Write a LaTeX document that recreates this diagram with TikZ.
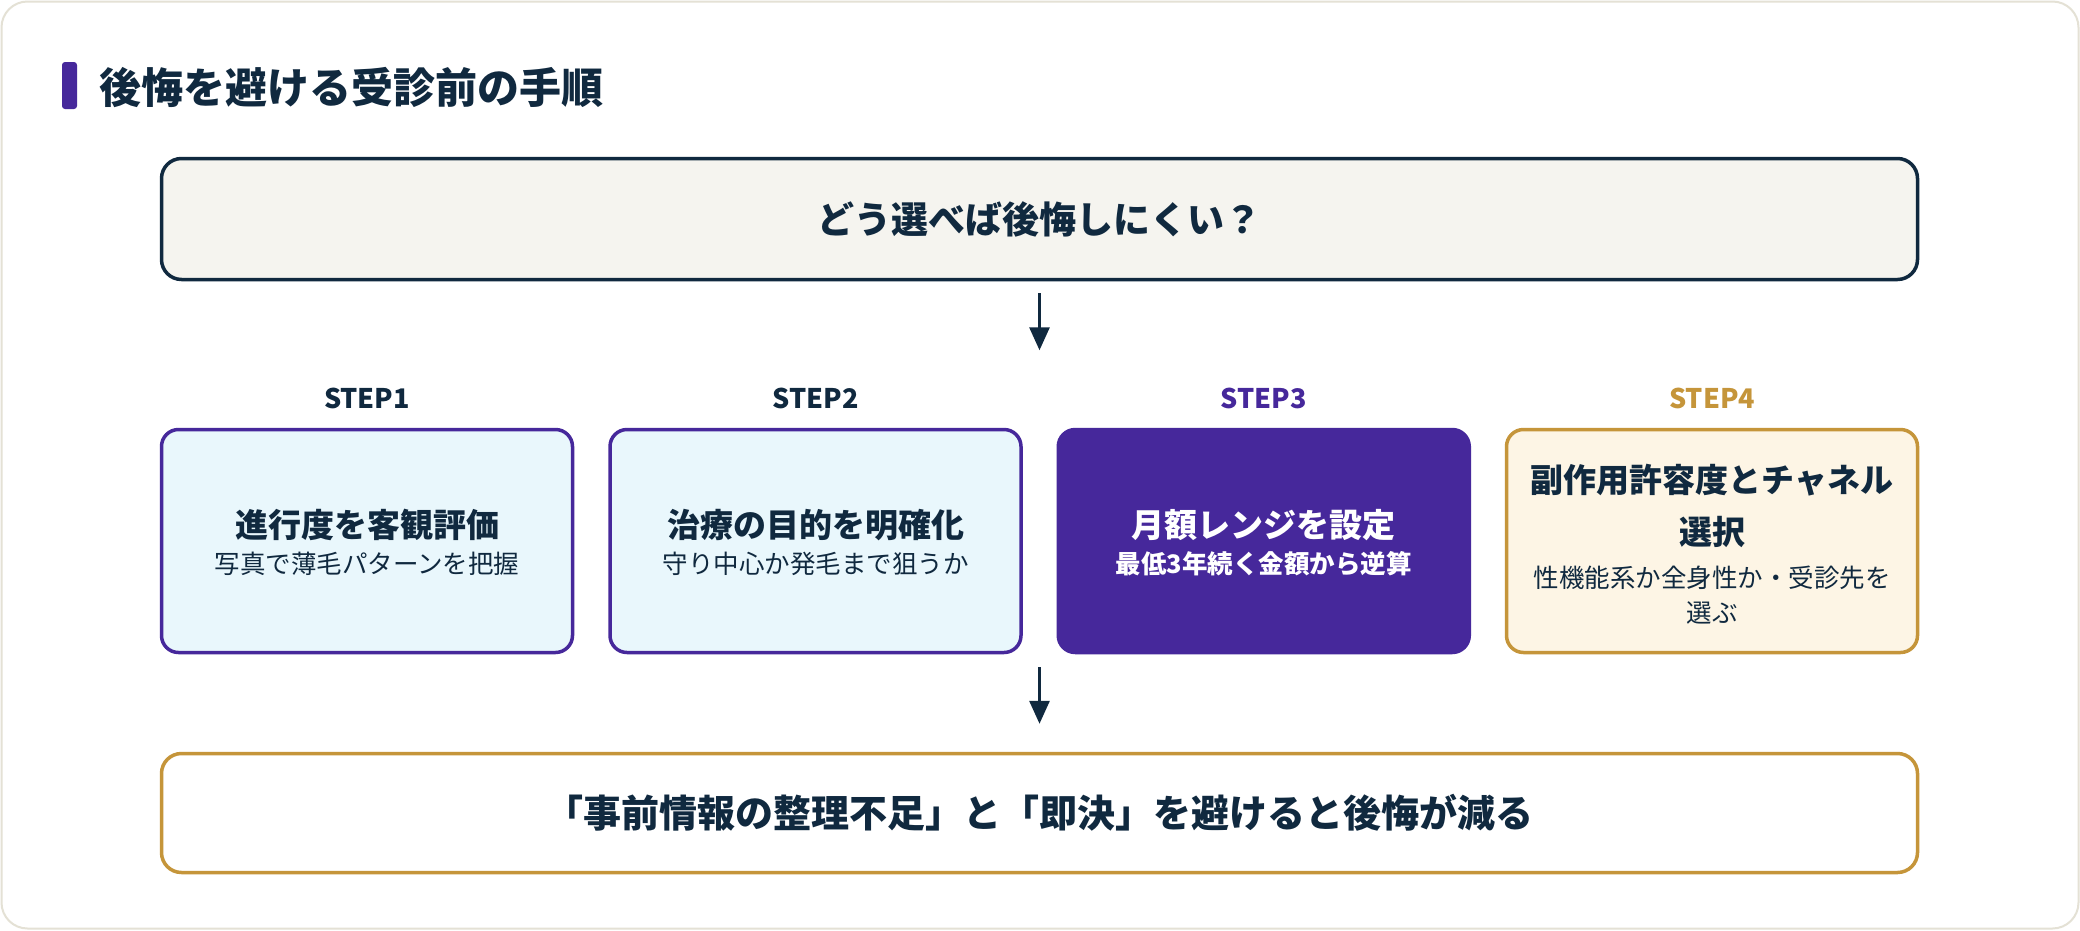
\documentclass[tikz,border=0pt]{standalone}
\usepackage{fontspec}
\newfontfamily\jp{Noto Sans CJK JP}
\usetikzlibrary{arrows.meta}
\definecolor{navy}{HTML}{10293F}
\definecolor{brandpurple}{HTML}{46289B}
\definecolor{gold}{HTML}{C5953A}
\definecolor{cyanfill}{HTML}{E9F7FC}
\definecolor{creamfill}{HTML}{FDF5E5}
\definecolor{greyfill}{HTML}{F5F4EF}
\definecolor{cardline}{HTML}{E4E1D5}
\tikzset{
  stepbox/.style={draw=brandpurple, line width=3.5pt, fill=cyanfill, rounded corners=17pt,
    minimum width=411pt, minimum height=223pt, inner sep=0pt},
  widebox/.style={line width=3.5pt, rounded corners=20pt, minimum width=1756pt, inner sep=0pt},
  steplabel/.style={font=\jp\bfseries\fontsize{27}{31}\selectfont},
  boxtitle/.style={text=navy, font=\jp\bfseries\fontsize{33}{52}\selectfont, align=center, inner sep=0pt},
  boxsub/.style={text=navy, font=\jp\fontsize{25.5}{35}\selectfont, align=center, inner sep=0pt},
  arr/.style={draw=navy, line width=3pt, -{Triangle[width=20pt,length=23pt]}},
}
\begin{document}
\begin{tikzpicture}[x=1pt,y=-1pt, font=\jp]
\useasboundingbox (0,0) rectangle (2080,930);
\fill[white] (0,0) rectangle (2080,930);
\draw[cardline, line width=2pt, rounded corners=26pt] (1.5,1.5) rectangle (2078.5,928.5);

% heading
\node[fill=brandpurple, rounded corners=3pt, minimum width=15pt, minimum height=47pt, inner sep=0pt] (bar) at (69.5,85.5) {};
\node[anchor=west, text=navy, font=\jp\bfseries\fontsize{42}{50}\selectfont, inner sep=0pt] (heading) at (99,88) {後悔を避ける受診前の手順};

% question box
\node[widebox, draw=navy, fill=greyfill, minimum height=121pt,
  text=navy, font=\jp\bfseries\fontsize{37}{44}\selectfont] (q) at (1039.5,219) {どう選べば後悔しにくい？};

% step labels
\node[steplabel, text=navy] (l1) at (367,398) {STEP1};
\node[steplabel, text=navy] (l2) at (815.5,398) {STEP2};
\node[steplabel, text=brandpurple] (l3) at (1263.75,398) {STEP3};
\node[steplabel, text=gold] (l4) at (1712,398) {STEP4};

% step boxes
\node[stepbox] (b1) at (367,541) {};
\node[stepbox] (b2) at (815.5,541) {};
\node[stepbox, fill=brandpurple] (b3) at (1263.75,541) {};
\node[stepbox, draw=gold, fill=creamfill] (b4) at (1712,541) {};

\node[boxtitle] (t1) at ([yshift=16pt]b1.center) {進行度を客観評価};
\node[boxsub] (s1) at ([yshift=-23pt]b1.center) {写真で薄毛パターンを把握};
\node[boxtitle] (t2) at ([yshift=16pt]b2.center) {治療の目的を明確化};
\node[boxsub] (s2) at ([yshift=-23pt]b2.center) {守り中心か発毛まで狙うか};
\node[boxtitle, text=white] (t3) at ([yshift=16pt]b3.center) {月額レンジを設定};
\node[boxsub, text=white, font=\jp\bfseries\fontsize{25.5}{35}\selectfont] (s3) at ([yshift=-23pt]b3.center) {最低3年続く金額から逆算};
\node[boxtitle] (t4) at ([yshift=35pt]b4.center) {副作用許容度とチャネル\\選択};
\node[boxsub] (s4) at ([yshift=-54pt]b4.center) {性機能系か全身性か・受診先を\\選ぶ};

% conclusion box
\node[widebox, draw=gold, fill=white, minimum height=119pt,
  text=navy, font=\jp\bfseries\fontsize{38}{44}\selectfont] (c) at (1039.5,813) {「事前情報の整理不足」と「即決」を避けると後悔が減る};

% arrows
\draw[arr] ([yshift=-12pt]q.south) -- ([yshift=-12pt-57pt]q.south);
\draw[arr] ([yshift=-13pt]b3.south -| q.south) -- ([yshift=28pt]c.north);
\end{tikzpicture}
\end{document}
